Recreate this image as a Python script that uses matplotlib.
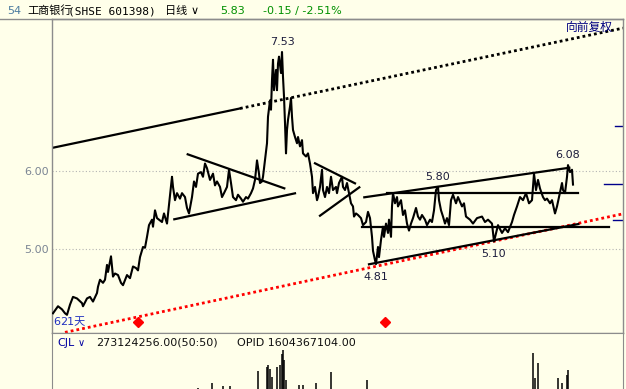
import numpy as np
import matplotlib.pyplot as plt
from matplotlib.lines import Line2D

plt.rcParams['font.family'] = ['DejaVu Sans', 'Noto Sans CJK SC']

# daily price trace (trading-day index, price)
day = [1, 6, 10, 13, 15, 18, 21, 25, 30, 31, 35, 38, 41, 45, 46, 48, 51, 53, 55, 56,
       59, 61, 63, 66, 69, 71, 75, 78, 81, 84, 86, 88, 91, 93, 95, 97, 100, 101, 103, 105,
       107, 110, 112, 115, 117, 120, 121, 123, 125, 128, 130, 133, 135, 137, 140, 142, 144, 146, 149, 151,
       153, 155, 158, 161, 163, 165, 168, 170, 172, 175, 177, 179, 181, 184, 186, 189, 191, 194, 196, 199,
       201, 203, 205, 207, 208, 210, 211, 213, 215, 216, 218, 219, 220, 221, 222, 224, 225, 226, 227, 229,
       230, 231, 232, 233, 234, 235, 236, 238, 239, 240, 241, 243, 245, 246, 248, 250, 251, 254, 256, 258,
       260, 261, 263, 265, 266, 268, 270, 271, 273, 275, 277, 279, 281, 284, 285, 287, 290, 291, 293, 295,
       297, 299, 301, 302, 304, 306, 309, 311, 314, 316, 318, 320, 321, 323, 324, 326, 327, 329, 331, 332,
       334, 336, 337, 339, 340, 341, 343, 345, 346, 349, 351, 353, 355, 357, 359, 361, 364, 366, 368, 370,
       373, 375, 378, 380, 382, 384, 386, 387, 389, 391, 393, 395, 397, 399, 401, 404, 406, 408, 410, 412,
       414, 418, 421, 425, 430, 433, 436, 440, 442, 446, 450, 453, 456, 460, 462, 465, 468, 471, 474, 477,
       480, 482, 484, 486, 488, 491, 493, 495, 498, 500, 503, 505, 507, 510, 511, 513, 515, 516, 518, 520,
       521]
price = [4.18, 4.27, 4.23, 4.18, 4.16, 4.29, 4.39, 4.37, 4.31, 4.27, 4.37, 4.39, 4.33, 4.44, 4.52, 4.61, 4.57, 4.61, 4.80, 4.71,
         4.91, 4.65, 4.69, 4.67, 4.57, 4.54, 4.67, 4.63, 4.78, 4.76, 4.73, 4.90, 5.03, 5.02, 5.16, 5.31, 5.38, 5.29, 5.50, 5.40,
         5.38, 5.35, 5.46, 5.33, 5.57, 5.93, 5.80, 5.63, 5.72, 5.65, 5.72, 5.67, 5.53, 5.46, 5.67, 5.87, 5.80, 5.97, 5.99, 5.93,
         6.10, 6.04, 5.89, 5.97, 5.82, 5.87, 5.80, 5.67, 5.72, 5.80, 6.02, 5.85, 5.67, 5.63, 5.70, 5.65, 5.61, 5.67, 5.65, 5.72,
         5.78, 5.89, 6.14, 5.97, 5.85, 5.87, 5.93, 6.14, 6.36, 6.70, 6.91, 6.79, 7.17, 7.43, 7.04, 7.30, 7.04, 7.38, 7.47, 7.26,
         7.53, 7.21, 6.96, 6.62, 6.23, 6.53, 6.66, 6.83, 6.94, 6.70, 6.53, 6.44, 6.36, 6.44, 6.32, 6.40, 6.23, 6.19, 6.23, 6.10,
         5.93, 5.72, 5.80, 5.63, 5.67, 5.80, 6.02, 5.76, 5.67, 5.80, 5.72, 5.93, 5.76, 5.80, 5.72, 5.85, 5.93, 5.80, 5.76, 5.85,
         5.72, 5.59, 5.55, 5.42, 5.46, 5.44, 5.40, 5.31, 5.35, 5.48, 5.40, 5.16, 4.98, 4.86, 4.81, 5.03, 4.90, 5.12, 5.29, 5.16,
         5.33, 5.21, 5.38, 5.16, 5.55, 5.72, 5.59, 5.67, 5.55, 5.63, 5.44, 5.50, 5.33, 5.24, 5.33, 5.40, 5.53, 5.42, 5.38, 5.44,
         5.38, 5.31, 5.38, 5.35, 5.50, 5.76, 5.80, 5.63, 5.50, 5.42, 5.33, 5.40, 5.31, 5.63, 5.70, 5.59, 5.67, 5.61, 5.55, 5.59,
         5.42, 5.38, 5.33, 5.40, 5.42, 5.35, 5.38, 5.33, 5.10, 5.31, 5.21, 5.27, 5.22, 5.35, 5.44, 5.55, 5.67, 5.63, 5.72, 5.59,
         5.63, 5.97, 5.76, 5.89, 5.78, 5.67, 5.63, 5.65, 5.59, 5.63, 5.46, 5.55, 5.67, 5.85, 5.76, 5.72, 5.93, 6.08, 5.99, 6.02,
         5.83]

# volume spikes (1e8 shares)
vol_day = [146, 160, 171, 178, 206, 215, 216, 218, 220, 225, 228, 230, 231, 232, 234,
           247, 251, 264, 279, 315, 481, 483, 486, 506, 510, 515, 516]
vol = [4.21, 4.92, 4.48, 4.48, 6.94, 7.49, 7.86, 7.17, 5.98, 7.49, 7.86, 9.62, 10.27, 8.66, 5.45,
       4.64, 4.64, 4.96, 6.73, 5.45, 9.79, 5.77, 8.18, 5.77, 4.96, 6.25, 7.05]

# drawn trend lines: ((day0, p0), (day1, p1))
long_top_solid = [(0, 6.30), (188, 6.806)]
long_top_dotted = [(188, 6.806), (571, 7.836)]
long_bottom_red = [(13, 3.935), (571, 5.455)]
pattern_lines = [
    [(135.7, 6.218), (232.3, 5.782)],
    [(122.3, 5.385), (243, 5.718)],
    [(263, 6.103), (303, 5.846)],
    [(268, 5.431), (307.3, 5.795)],
    [(312.3, 5.667), (517.3, 6.046)],
    [(335.3, 5.72), (526.3, 5.72)],
    [(310.3, 5.29), (557.3, 5.29)],
    [(317, 4.808), (526.3, 5.324)],
]
marks = [(230, 7.53, 'up'), (516, 6.08, 'up'), (386, 5.80, 'up'),
         (442, 5.10, 'down'), (324, 4.81, 'down')]
diamond_day = [86, 333]
diamond_price = [4.068, 4.068]
side_levels = [6.585, 5.833, 5.372]
side_start = [0.986, 0.967, 0.982]

bg = '#ffffea'
frame = '#8c8c8c'
W, H = 626, 389

fig = plt.figure(figsize=(W / 100, H / 100), dpi=100, facecolor=bg)
ax = fig.add_axes([52 / W, 1 - 333 / H, 571 / W, 314 / H], facecolor=bg)
vax = fig.add_axes([52 / W, 0, 571 / W, 56 / H], facecolor=bg)

# main price panel
for g in [5, 6]:
    ax.axhline(g, color='#b4b4b4', lw=0.8, ls=(0, (1, 2)), zorder=1)
ax.plot(day, price, color='black', lw=1.5, zorder=3)

(x0, y0), (x1, y1) = long_top_solid
ax.plot([x0, x1], [y0, y1], color='black', lw=1.6)
(x0, y0), (x1, y1) = long_top_dotted
ax.plot([x0, x1], [y0, y1], color='black', lw=2.0, ls=(0, (1, 1.1)))
(x0, y0), (x1, y1) = long_bottom_red
ax.plot([x0, x1], [y0, y1], color='#ff0000', lw=2.0, ls=(0, (1, 1.1)), zorder=2)
for (x0, y0), (x1, y1) in pattern_lines:
    ax.plot([x0, x1], [y0, y1], color='black', lw=1.6, zorder=4)

for d, p, side in marks:
    off = (0, 7.5) if side == 'up' else (0, -9)
    ax.annotate(f'{p:.2f}', (d, p), xytext=off, textcoords='offset points',
                ha='center', va='center', fontsize=8, color='#1c1c3c')

ax.plot(diamond_day, diamond_price, 'D', color='#ff0000', ms=5.5, mec='#ff0000', zorder=5)
for lv, st in zip(side_levels, side_start):
    ax.axhline(lv, xmin=st, xmax=1, color='#00008b', lw=1.0)

ax.set_xlim(0, 571)
ax.set_ylim(3.927, 7.953)
ax.set_xticks([])
ax.set_yticks([5, 6])
ax.set_yticklabels(['5.00', '6.00'])
ax.tick_params(axis='y', length=0, pad=2.5, labelsize=8, labelcolor='#7b8594')
for s in ax.spines.values():
    s.set_color(frame)
    s.set_linewidth(1)

ax.text(561, 7.84, '向前复权', fontsize=8.5, color='#000080', ha='right', va='center',
        family=['Noto Sans CJK SC'], zorder=6)
ax.text(0.8, 4.07, '6', fontsize=8, color='#2030c0', ha='left', va='center')
ax.text(8, 4.07, '21天', fontsize=8, color='#2030c0', ha='left', va='center',
        family=['DejaVu Sans', 'Noto Sans CJK SC'])

# volume panel
vax.vlines(vol_day, 0, vol, color='black', lw=1.1)
vax.set_xlim(0, 571)
vax.set_ylim(4.0, 13.0)
vax.set_xticks([])
vax.set_yticks([])
vax.spines['bottom'].set_visible(False)
for s in ['left', 'right', 'top']:
    vax.spines[s].set_color(frame)
vax.text(5 / 571, 0.83, 'CJL', transform=vax.transAxes, fontsize=8, color='#0000a0', va='center')
vax.text(26 / 571, 0.83, '\u2228', transform=vax.transAxes, fontsize=7, color='#0000a0', va='center')
vax.text(44 / 571, 0.83, '273124256.00(50:50)', transform=vax.transAxes, fontsize=8,
         color='#101010', va='center')
vax.text(185 / 571, 0.83, 'OPID 1604367104.00', transform=vax.transAxes, fontsize=8,
         color='#101010', va='center')

# header strip
fig.add_artist(Line2D([0, 623 / W], [1 - 19 / H, 1 - 19 / H], color=frame, lw=1))
hy = 1 - 11 / H
fig.text(7 / W, hy, '54', fontsize=8, color='#4c7ca0', va='center')
fig.text(27 / W, hy, '工商银行', fontsize=8, va='center', family=['Noto Sans CJK SC'])
fig.text(68 / W, hy, '(SHSE 601398)', fontsize=8, va='center', family=['DejaVu Sans Mono'])
fig.text(165 / W, hy, '日线', fontsize=8, va='center', family=['Noto Sans CJK SC'])
fig.text(191 / W, hy, '\u2228', fontsize=8, va='center')
fig.text(220 / W, hy, '5.83', fontsize=8, color='#009000', va='center')
fig.text(263 / W, hy, '-0.15 / -2.51%', fontsize=8, color='#009000', va='center')

fig.savefig('out.png', dpi=100, facecolor=bg)
